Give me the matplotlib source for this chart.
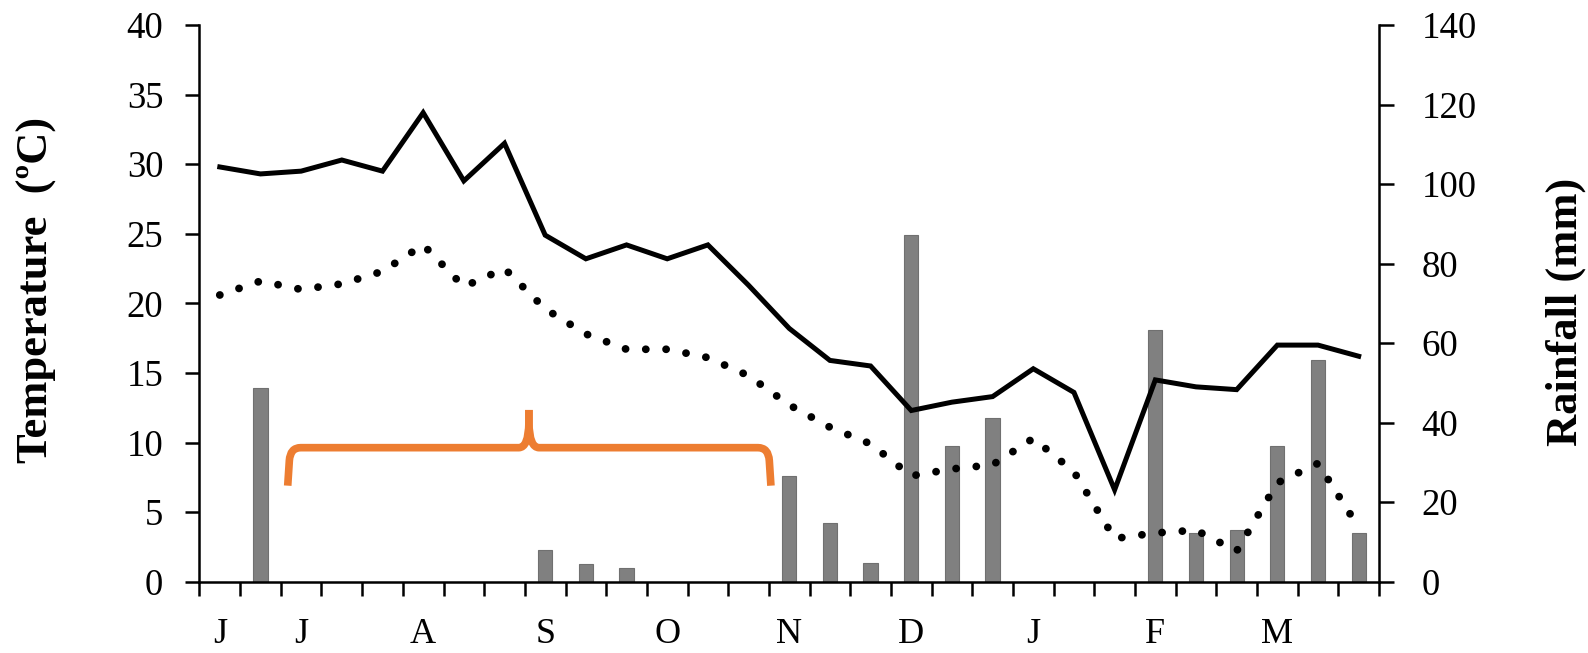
import numpy as np
import matplotlib
matplotlib.use("Agg")
import matplotlib.pyplot as plt
from matplotlib.path import Path
from matplotlib.patches import PathPatch

# ---- data (weekly) ----
tmax = [29.8, 29.3, 29.5, 30.3, 29.5, 33.7, 28.8, 31.5, 24.9, 23.2, 24.2, 23.2, 24.2, 21.3,
        18.2, 15.9, 15.5, 12.3, 12.9, 13.3, 15.3, 13.6, 6.6, 14.5, 14.0, 13.8, 17.0, 17.0, 16.2]
tmin = [20.6, 21.6, 21.0, 21.4, 22.3, 24.2, 21.2, 22.5, 19.6, 17.8, 16.7, 16.7, 16.1, 14.8,
        12.7, 11.1, 9.9, 7.6, 8.1, 8.4, 10.3, 7.9, 3.1, 3.5, 3.7, 2.2, 7.1, 8.5, 3.9]
rain = [0, 48.7, 0, 0, 0, 0, 0, 0, 8.0, 4.4, 3.5, 0, 0, 0,
        26.7, 14.7, 4.6, 87.2, 34.2, 41.1, 0, 0, 0, 63.2, 12.2, 13.0, 34.2, 55.7, 12.2]
month_labels = ["J", "J", "A", "S", "O", "N", "D", "J", "F", "M"]
month_pos = [0, 2, 5, 8, 11, 14, 17, 20, 23, 26]
temp_ticks = [0, 5, 10, 15, 20, 25, 30, 35, 40]
rain_ticks = [0, 20, 40, 60, 80, 100, 120, 140]

plt.rcParams['font.family'] = ['Liberation Serif', 'DejaVu Serif']

fig = plt.figure(figsize=(15.88, 6.53), dpi=100)
ax1 = fig.add_axes([0.1256, 0.1092, 0.8684 - 0.1256, 0.9617 - 0.1092])
ax2 = ax1.twinx()
ax1.set_zorder(ax2.get_zorder() + 1)
ax1.patch.set_visible(False)

n = len(tmax)
x = np.arange(n)

ax2.bar(x, rain, width=0.35, color='#808080', edgecolor='#707070', linewidth=0.8)
ax1.plot(x, tmax, color='black', lw=3.6, solid_joinstyle='miter')
ax1.plot(x, tmin, color='black', lw=5.6, linestyle=(0, (0.01, 2.6)),
         dash_capstyle='round')

ax1.set_xlim(-0.5, n - 0.5)
ax1.set_ylim(0, 40)
ax2.set_ylim(0, 140)
ax1.set_yticks(temp_ticks)
ax2.set_yticks(rain_ticks)

ax1.set_xticks(np.arange(-0.5, n, 1.0))
ax1.set_xticklabels([])
ax1.set_xticks(month_pos, minor=True)
ax1.set_xticklabels(month_labels, minor=True)

for ax in (ax1, ax2):
    ax.spines['top'].set_visible(False)
    for s in ('left', 'right', 'bottom'):
        ax.spines[s].set_linewidth(1.8)
ax1.spines['right'].set_visible(False)
ax2.spines['left'].set_visible(False)
ax2.spines['bottom'].set_visible(False)

ax1.tick_params(axis='y', which='major', direction='out', length=10, width=1.8,
                labelsize=26.5, pad=16)
ax2.tick_params(axis='y', which='major', direction='out', length=10.5, width=1.8,
                labelsize=26.5, pad=20)
ax1.tick_params(axis='x', which='major', direction='out', length=10, width=1.8)
ax1.tick_params(axis='x', which='minor', length=0, labelsize=26, pad=26)

# axis titles
fig.text(48 / 1588, 1 - 290 / 653, "Temperature  (ºC)", rotation=90,
         rotation_mode='anchor', ha='center', va='baseline',
         fontsize=32, fontweight='bold')
fig.text(1577 / 1588, 1 - 311.5 / 653, "Rainfall (mm)", rotation=90,
         rotation_mode='anchor', ha='center', va='baseline',
         fontsize=32, fontweight='bold')

# orange curly bracket annotation
xl, xr, xc = 1.67, 13.55, 7.6
ybot, ymid, ytop = 6.9, 9.63, 12.34
rh, rv = 0.32, 0.93
ch, cv = 0.25, 1.8


def half(xe, sgn):
    verts = [(xe, ybot), (xe + sgn * 0.04, ymid - rv), (xe + sgn * 0.06, ymid),
             (xe + sgn * rh, ymid), (xc - sgn * ch, ymid), (xc - sgn * 0.01, ymid),
             (xc, ymid + cv), (xc, ytop)]
    codes = [Path.MOVETO, Path.LINETO, Path.CURVE3, Path.CURVE3, Path.LINETO,
             Path.CURVE3, Path.CURVE3, Path.LINETO]
    return Path(verts, codes)


for p in (half(xl, 1), half(xr, -1)):
    ax1.add_patch(PathPatch(p, fill=False, edgecolor='#ED7D31', lw=5.5,
                            capstyle='butt', joinstyle='round', zorder=5))

fig.savefig("out.png", dpi=100)
